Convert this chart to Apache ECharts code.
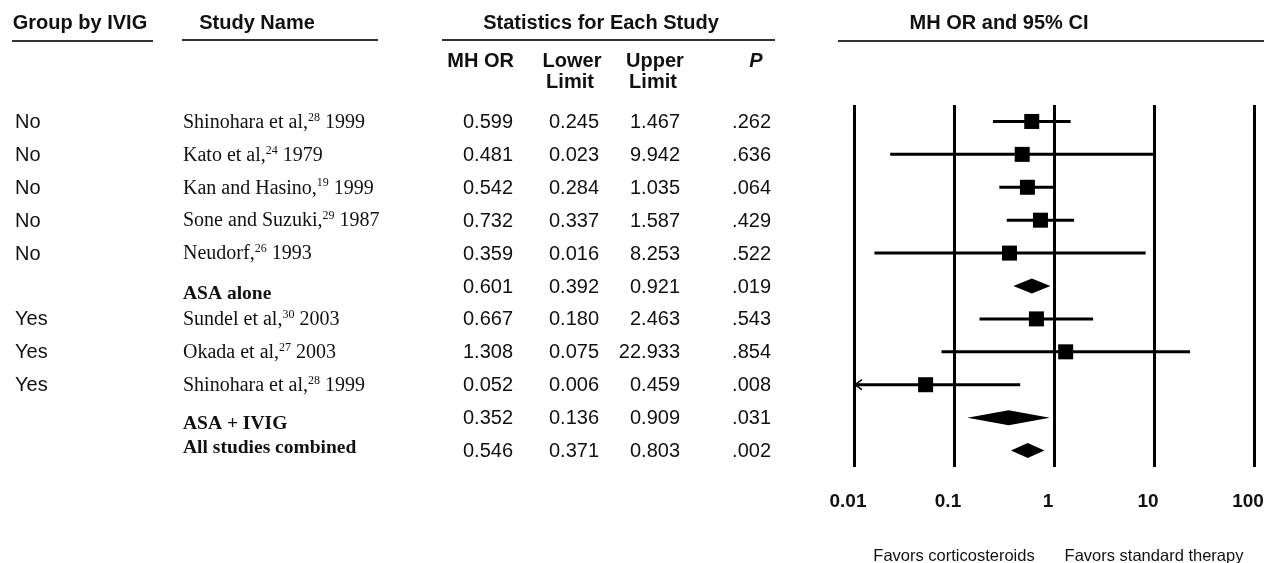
<!DOCTYPE html>
<html>
<head>
<meta charset="utf-8">
<script src="https://cdn.jsdelivr.net/npm/echarts@6/dist/echarts.min.js"></script>
<style>
  html, body { margin: 0; padding: 0; background: #fff; }
  #chart { width: 1264px; height: 563px; }
</style>
</head>
<body>
<div id="chart"></div>
<script>
// rows of the forest plot, top to bottom
const groups = ['No', 'No', 'No', 'No', 'No', '', 'Yes', 'Yes', 'Yes', '', ''];
const studies = ['Shinohara et al,', 'Kato et al,', 'Kan and Hasino,', 'Sone and Suzuki,', 'Neudorf,',
    'ASA alone', 'Sundel et al,', 'Okada et al,', 'Shinohara et al,', 'ASA + IVIG', 'All studies combined'];
const refs = ['28', '24', '19', '29', '26', '', '30', '27', '28', '', ''];
const years = ['1999', '1979', '1999', '1987', '1993', '', '2003', '2003', '1999', '', ''];
const isSummary = [false, false, false, false, false, true, false, false, false, true, true];
const orVals = [0.599, 0.481, 0.542, 0.732, 0.359, 0.601, 0.667, 1.308, 0.052, 0.352, 0.546];
const lowerVals = [0.245, 0.023, 0.284, 0.337, 0.016, 0.392, 0.180, 0.075, 0.006, 0.136, 0.371];
const upperVals = [1.467, 9.942, 1.035, 1.587, 8.253, 0.921, 2.463, 22.933, 0.459, 0.909, 0.803];
const pVals = ['.262', '.636', '.064', '.429', '.522', '.019', '.543', '.854', '.008', '.031', '.002'];
const xTicks = [0.01, 0.1, 1, 10, 100];
const favorLabels = { '0.1': 'Favors corticosteroids', '10': 'Favors standard therapy' };

const SANS = '"Liberation Sans", Arial, sans-serif';
const SERIF = '"Liberation Serif", "Times New Roman", serif';
const X_MIN = xTicks[0];

const rowNames = studies.map((s, i) => s + ' ' + years[i]);

function txt(x, y, text, opts) {
    return {
        type: 'text',
        style: Object.assign({
            x: x, y: y, text: text, fill: '#111',
            fontFamily: SANS, fontSize: 20,
            align: 'left', verticalAlign: 'middle'
        }, opts || {})
    };
}

function renderTable(params, api) {
    const i = api.value(1);
    const y = api.coord([0, i])[1];
    const kids = [];
    if (groups[i]) kids.push(txt(api.coord([15, i])[0], y + 1, groups[i]));
    let name;
    let dy = 1;
    if (isSummary[i]) {
        name = '{b|' + studies[i] + '}';
        // summary labels sit a little off their row in the original
        if (i === studies.length - 1) dy = -3;
        else if (i === 5) dy = 8;
        else dy = 6;
    } else {
        name = '{n|' + studies[i] + '}{s|' + refs[i] + '}{n| ' + years[i] + '}';
    }
    kids.push({
        type: 'text',
        style: {
            x: api.coord([183, i])[0], y: y + dy, text: name,
            align: 'left', verticalAlign: 'middle',
            rich: {
                n: { fontFamily: SERIF, fontSize: 20, fill: '#111', lineHeight: 22 },
                s: { fontFamily: SERIF, fontSize: 12, fill: '#111', verticalAlign: 'top', lineHeight: 12 },
                b: { fontFamily: SERIF, fontSize: 19.5, fontWeight: 'bold', fill: '#111', lineHeight: 22 }
            }
        }
    });
    const cols = [
        [513, orVals[i].toFixed(3)],
        [599, lowerVals[i].toFixed(3)],
        [680, upperVals[i].toFixed(3)],
        [771, pVals[i]]
    ];
    cols.forEach(function (c) {
        kids.push(txt(api.coord([c[0], i])[0], y + 1, c[1], { align: 'right' }));
    });
    return { type: 'group', children: kids };
}

function renderForest(params, api) {
    const i = api.value(1);
    const y = api.coord([1, i])[1];
    const xo = api.coord([api.value(0), i])[0];
    const lo = api.value(2), hi = api.value(3);
    const xl = api.coord([Math.max(lo, X_MIN), i])[0];
    const xh = api.coord([hi, i])[0];
    const kids = [];
    if (isSummary[i]) {
        kids.push({
            type: 'polygon',
            shape: { points: [[xl, y], [xo, y - 7.5], [xh, y], [xo, y + 7.5]] },
            style: { fill: '#000' }
        });
    } else {
        kids.push({
            type: 'line',
            shape: { x1: xl, y1: y, x2: xh, y2: y },
            style: { stroke: '#000', lineWidth: 3 }
        });
        if (lo < X_MIN) {
            kids.push({
                type: 'polyline',
                shape: { points: [[xl + 8, y - 5], [xl + 1, y], [xl + 8, y + 5]] },
                style: { stroke: '#000', lineWidth: 1.5, fill: null }
            });
        }
        kids.push({
            type: 'rect',
            shape: { x: xo - 7.5, y: y - 7.5, width: 15, height: 15 },
            style: { fill: '#000' }
        });
    }
    return { type: 'group', children: kids };
}

const chart = echarts.init(document.getElementById('chart'));

const headStyle = { fill: '#111', font: 'bold 20px ' + SANS, align: 'center', verticalAlign: 'middle' };
function headText(x, y, text, extra) {
    return { type: 'text', x: x, y: y, style: Object.assign({}, headStyle, { text: text }, extra || {}) };
}
function headLine(x1, x2, y) {
    return { type: 'line', shape: { x1: x1, y1: y, x2: x2, y2: y }, style: { stroke: '#333', lineWidth: 2 } };
}

const option = {
    animation: false,
    backgroundColor: '#fff',
    grid: [
        { left: 854, width: 400, top: 105, height: 362, outerBoundsMode: 'none', containLabel: false },
        { left: 0, right: 0, top: 105, height: 362, outerBoundsMode: 'none', containLabel: false }
    ],
    xAxis: [
        {
            gridIndex: 0, type: 'log', logBase: 10, min: 0.01, max: 100,
            axisLine: { show: false }, axisTick: { show: false },
            splitLine: { show: true, lineStyle: { color: '#000', width: 3 } },
            axisLabel: {
                margin: 25, interval: 0,
                formatter: function (v) { return '{t|' + (+v.toPrecision(3)) + '}'; },
                rich: {
                    t: { color: '#111', fontFamily: SANS, fontWeight: 'bold', fontSize: 19, padding: [0, 12, 0, 0] }
                }
            }
        },
        {
            gridIndex: 0, type: 'log', logBase: 10, min: 0.01, max: 100, position: 'bottom',
            axisLine: { show: false }, axisTick: { show: false }, splitLine: { show: false },
            axisLabel: {
                margin: 81, color: '#111', fontFamily: SANS, fontSize: 16.5, interval: 0,
                formatter: function (v) { return favorLabels[String(+v.toPrecision(3))] || ''; }
            }
        },
        { gridIndex: 1, type: 'value', min: 0, max: 1264, show: false }
    ],
    yAxis: [
        { gridIndex: 0, type: 'category', data: rowNames, inverse: true, show: false },
        { gridIndex: 1, type: 'category', data: rowNames, inverse: true, show: false }
    ],
    graphic: [
        headText(80, 23, 'Group by IVIG'),
        headLine(12, 153, 41),
        headText(257, 23, 'Study Name'),
        headLine(182, 378, 40),
        headText(601, 23, 'Statistics for Each Study'),
        headLine(442, 775, 40),
        headText(999, 23, 'MH OR and 95% CI'),
        headLine(838, 1264, 41),
        headText(514, 61, 'MH OR', { align: 'right' }),
        headText(572, 61, 'Lower'),
        headText(570, 82, 'Limit'),
        headText(655, 61, 'Upper'),
        headText(653, 82, 'Limit'),
        headText(756, 61, 'P', { font: 'italic bold 20px ' + SANS })
    ],
    series: [
        {
            type: 'custom', name: 'table', xAxisIndex: 2, yAxisIndex: 1,
            renderItem: renderTable,
            encode: { x: 0, y: 1 },
            data: rowNames.map(function (n, i) { return [0, i]; })
        },
        {
            type: 'custom', name: 'forest', xAxisIndex: 0, yAxisIndex: 0,
            renderItem: renderForest,
            encode: { x: [0, 2, 3], y: 1 },
            data: orVals.map(function (v, i) { return [v, i, lowerVals[i], upperVals[i]]; })
        }
    ]
};
chart.setOption(option);
</script>
</body>
</html>
